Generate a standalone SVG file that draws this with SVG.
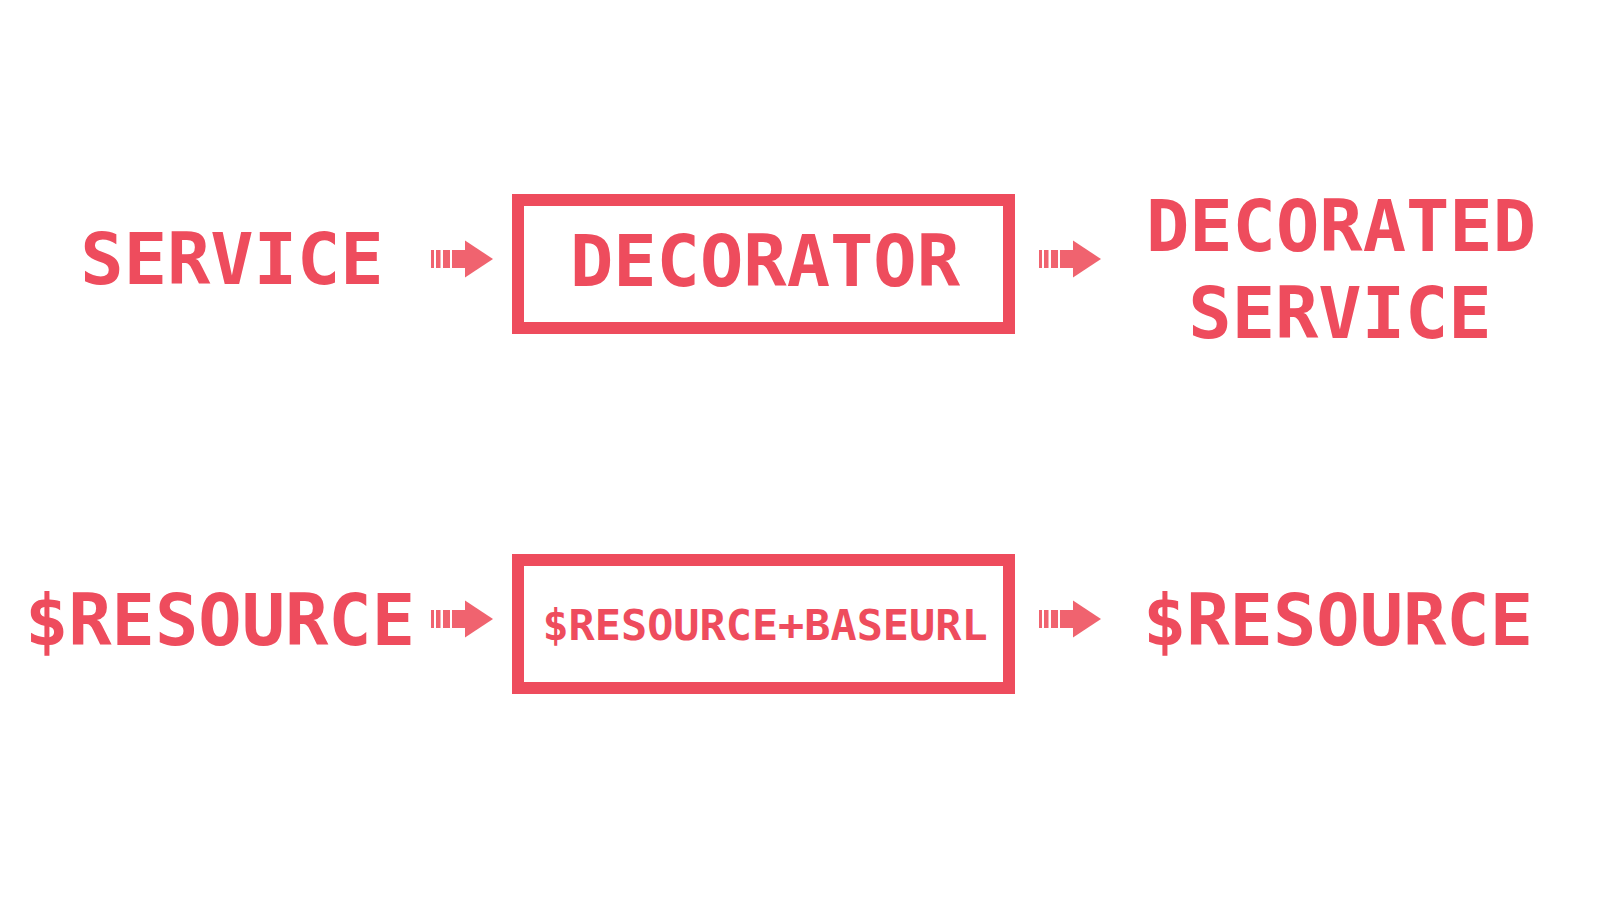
<svg xmlns="http://www.w3.org/2000/svg" width="1600" height="900" viewBox="0 0 1600 900">
  <style>
    .t { font-family: "DejaVu Sans Mono", "Liberation Mono", monospace; font-weight: bold; fill: #EE4C5D; text-anchor: middle; }
    .big { font-size: 72px; }
    .small { font-size: 43.5px; }
    .box { fill: none; stroke: #EE4C5D; stroke-width: 12; }
    .arrow { fill: #F0636F; }
  </style>
  <defs>
    <g id="arrowShape">
      <rect x="0" y="0" width="3" height="18"/>
      <rect x="5" y="0" width="4.5" height="18"/>
      <rect x="12" y="0" width="7" height="18"/>
      <rect x="21" y="0" width="14" height="18"/>
      <polygon points="34,-9.5 62,9 34,27.5"/>
    </g>
  </defs>

  <g id="connectors" class="arrow">
    <use href="#arrowShape" x="431" y="250"/>
    <use href="#arrowShape" x="1039" y="250"/>
    <use href="#arrowShape" x="431" y="610"/>
    <use href="#arrowShape" x="1039" y="610"/>
  </g>

  <g id="service">
    <text class="t big" x="232" y="284">SERVICE</text>
  </g>
  <g id="decorator">
    <rect class="box" x="518" y="200" width="491" height="128"/>
    <text class="t big" x="765" y="286">DECORATOR</text>
  </g>
  <g id="decorated-service">
    <text class="t big" x="1341" y="251">DECORATED</text>
    <text class="t big" x="1340" y="338">SERVICE</text>
  </g>

  <g id="resource">
    <text class="t big" x="220" y="645">$RESOURCE</text>
  </g>
  <g id="resource-baseurl">
    <rect class="box" x="518" y="560" width="491" height="128"/>
    <text class="t small" x="765" y="640">$RESOURCE+BASEURL</text>
  </g>
  <g id="resource-out">
    <text class="t big" x="1338" y="645">$RESOURCE</text>
  </g>
</svg>
